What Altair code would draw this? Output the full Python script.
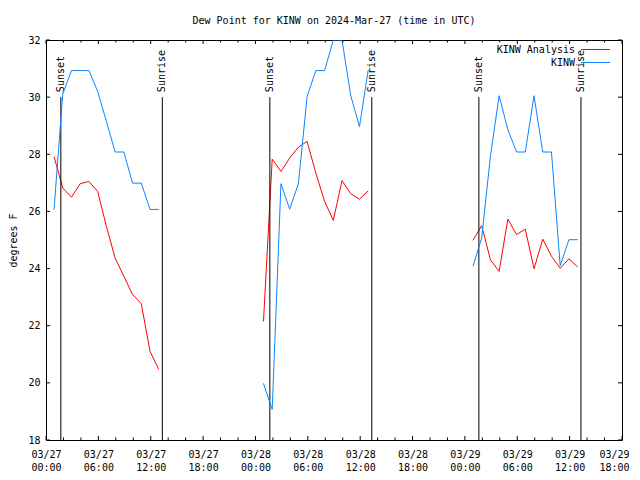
import altair as alt
import pandas as pd

TITLE = "Dew Point for KINW on 2024-Mar-27 (time in UTC)"
Y_TITLE = "degrees F"
SERIES = ["KINW Analysis", "KINW"]
COLORS = ["#ff0000", "#0a84ff"]

# observation times, hours after 2024-03-27 00:00 UTC
TIMES_D1 = [0.92, 1.92, 2.92, 3.92, 4.92, 5.92, 6.92, 7.92, 8.92, 9.92, 10.92, 11.92, 12.92]
TIMES_D2 = [24.92, 25.92, 26.92, 27.92, 28.92, 29.92, 30.92, 31.92, 32.92, 33.92, 34.92, 35.92, 36.92]
TIMES_D3 = [48.92, 49.92, 50.92, 51.92, 52.92, 53.92, 54.92, 55.92, 56.92, 57.92, 58.92, 59.92, 60.92]

ANALYSIS_D1 = [27.92, 26.82, 26.50, 26.97, 27.05, 26.70, 25.48, 24.37, 23.73, 23.09, 22.77, 21.10, 20.47]
ANALYSIS_D2 = [22.15, 27.83, 27.40, 27.87, 28.25, 28.45, 27.34, 26.35, 25.69, 27.08, 26.62, 26.43, 26.72]
ANALYSIS_D3 = [24.99, 25.50, 24.31, 23.90, 25.73, 25.19, 25.38, 23.99, 25.03, 24.43, 24.01, 24.34, 24.06]

OBS_D1 = [26.06, 30.11, 30.93, 30.93, 30.93, 30.20, 29.15, 28.08, 28.08, 26.99, 26.99, 26.07, 26.07]
OBS_D2 = [19.98, 19.07, 26.97, 26.08, 26.97, 30.02, 30.93, 30.93, 32.00, 32.00, 30.05, 28.97, 30.95]
OBS_D3 = [24.08, 25.07, 27.92, 30.05, 28.86, 28.08, 28.08, 30.05, 28.08, 28.08, 24.10, 25.01, 25.01]

SUN_LABELS = ["Sunset", "Sunrise", "Sunset", "Sunrise", "Sunset", "Sunrise"]
SUN_TIMES = [1.70, 13.33, 25.65, 37.33, 49.60, 61.30]
SUN_LINE_TOP = 30
Y_MIN, Y_MAX = 18, 32
X_MIN, X_MAX = 0, 66
X_LABEL_TICKS = [0, 6, 12, 18, 24, 30, 36, 42, 48, 54, 60, 66]
X_MINOR_TICKS = [2, 4, 8, 10, 14, 16, 20, 22, 26, 28, 32, 34, 38, 40, 44, 46, 50, 52, 56, 58, 62, 64]
Y_TICKS = [18, 20, 22, 24, 26, 28, 30, 32]

FONT = "DejaVu Sans Mono"
W, H = 576, 400

rows = []
for day, (ts, a, o) in enumerate([(TIMES_D1, ANALYSIS_D1, OBS_D1),
                                  (TIMES_D2, ANALYSIS_D2, OBS_D2),
                                  (TIMES_D3, ANALYSIS_D3, OBS_D3)]):
    for t, va, vo in zip(ts, a, o):
        rows.append({"t": t, "v": va, "series": SERIES[0], "day": day})
        rows.append({"t": t, "v": vo, "series": SERIES[1], "day": day})
df = pd.DataFrame(rows)
sun = pd.DataFrame({"t": SUN_TIMES, "label": SUN_LABELS})
xmaj = pd.DataFrame({"t": X_LABEL_TICKS})
xmin = pd.DataFrame({"t": X_MINOR_TICKS})
yt = pd.DataFrame({"v": Y_TICKS})

XS = alt.Scale(domain=[X_MIN, X_MAX], nice=False, zero=False)
YS = alt.Scale(domain=[Y_MIN, Y_MAX], nice=False, zero=False)

x_axis = alt.Axis(
    values=X_LABEL_TICKS, ticks=False, domain=False, grid=False,
    labelExpr="['03/' + (27 + floor(datum.value / 24)), (datum.value % 24 < 10 ? '0' : '') + (datum.value % 24) + ':00']",
    labelFont=FONT, labelFontSize=10, labelColor="black", labelPadding=9,
    labelLineHeight=13, labelBaseline="top", labelFlush=False, labelOverlap=False,
    labelOffset={"condition": {"test": f"datum.value === {X_MAX}", "value": -8}, "value": 0},
    title=None,
)
y_axis = alt.Axis(
    values=Y_TICKS, ticks=False, domain=False, grid=False,
    labelFont=FONT, labelFontSize=10, labelColor="black", labelPadding=6,
    title=Y_TITLE, titleFont=FONT, titleFontSize=10, titleFontWeight="normal",
    titleColor="black", titlePadding=9,
)


def X(field="t:Q"):
    return alt.X(field, scale=XS, axis=x_axis)


def Y(field="v:Q"):
    return alt.Y(field, scale=YS, axis=y_axis)


base_lines = alt.Chart(df)
red = base_lines.transform_filter(alt.datum.series == SERIES[0]).mark_line(
    color=COLORS[0], strokeWidth=1, clip=True
).encode(x=X(), y=Y(), detail="day:N")
blue = base_lines.transform_filter(alt.datum.series == SERIES[1]).mark_line(
    color=COLORS[1], strokeWidth=1, clip=True
).encode(x=X(), y=Y(), detail="day:N")

sun_rules = alt.Chart(sun).mark_rule(color="black", strokeWidth=1).encode(
    x=X(),
    y=alt.YDatum(SUN_LINE_TOP, scale=YS, axis=y_axis),
    y2=alt.datum(Y_MIN),
)
sun_text = alt.Chart(sun).mark_text(
    angle=270, align="left", baseline="middle", dx=5, font=FONT, fontSize=10, color="black"
).encode(
    x=X(),
    y=alt.YDatum(SUN_LINE_TOP, scale=YS, axis=y_axis),
    text="label:N",
)


def xticks(d, length):
    bot = alt.Chart(d).mark_rule(color="black", strokeWidth=1).encode(
        x=X(), y=alt.value(H), y2=alt.value(H - length))
    top = alt.Chart(d).mark_rule(color="black", strokeWidth=1).encode(
        x=X(), y=alt.value(0), y2=alt.value(length))
    return [bot, top]


yl = alt.Chart(yt).mark_rule(color="black", strokeWidth=1).encode(
    y=Y(), x=alt.value(0), x2=alt.value(4))
yr = alt.Chart(yt).mark_rule(color="black", strokeWidth=1).encode(
    y=Y(), x=alt.value(W), x2=alt.value(W - 4))

legend_layers = []
for i, (name, col) in enumerate(zip(SERIES, COLORS)):
    ld = pd.DataFrame({"name": [name]})
    legend_layers.append(
        alt.Chart(ld).mark_text(align="right", baseline="middle", font=FONT, fontSize=10, color="black")
        .encode(text="name:N", x=alt.value(529), y=alt.value(9.5 + 13 * i))
    )
    legend_layers.append(
        alt.Chart(ld).mark_rule(color=col, strokeWidth=1)
        .encode(x=alt.value(535), x2=alt.value(564), y=alt.value(9.5 + 13 * i))
    )

chart = alt.layer(
    red, sun_rules, sun_text, blue, *xticks(xmaj, 4), *xticks(xmin, 2.5), yl, yr, *legend_layers
).properties(
    width=W, height=H,
    title=alt.Title(TITLE, font=FONT, fontSize=10, fontWeight="normal", color="black",
                    anchor="middle", offset=9),
    autosize=alt.AutoSizeParams(type="none"),
    padding={"left": 38, "top": 32, "right": 10, "bottom": 32},
    background="white",
).configure_view(stroke="black", strokeWidth=1)

chart.save("out.html", embed_options={"renderer": "svg", "actions": False})
